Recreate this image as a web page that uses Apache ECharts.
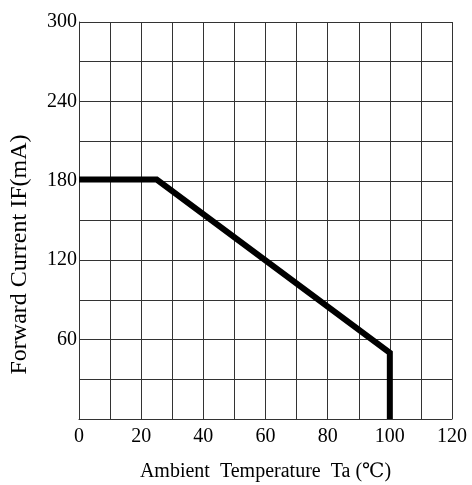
<!DOCTYPE html>
<html>
<head>
<meta charset="utf-8">
<script src="https://cdn.jsdelivr.net/npm/echarts@6/dist/echarts.min.js"></script>
<style>
  html, body { margin: 0; padding: 0; background: #fff; }
  #chart { width: 472px; height: 485px; }
</style>
</head>
<body>
<div id="chart"></div>
<script>
// derating curve
const ambientTemp = [0, 25, 100, 100];
const forwardCurrent = [181, 181, 50, 0];
const xLabelEvery = 20;
const yLabelEvery = 60;

const chart = echarts.init(document.getElementById('chart'));
const font = '"Liberation Serif", "DejaVu Serif", serif';
const gridColor = '#333';

const option = {
    animation: false,
    grid: { left: 79, right: 20, top: 22, bottom: 66, outerBoundsMode: 'none' },
    xAxis: {
        type: 'value',
        min: 0,
        max: 120,
        interval: 10,
        name: 'Ambient  Temperature  Ta (\u2103)',
        nameLocation: 'middle',
        nameGap: 43,
        nameTextStyle: { fontFamily: font, fontSize: 20, color: '#000' },
        axisLine: { lineStyle: { color: gridColor, width: 1 } },
        axisTick: { show: false },
        axisLabel: {
            fontFamily: font, fontSize: 20, color: '#000', margin: 8,
            formatter: v => (v % xLabelEvery === 0 ? String(v) : '')
        },
        splitLine: { show: true, lineStyle: { color: gridColor, width: 1 } }
    },
    yAxis: {
        type: 'value',
        min: 0,
        max: 300,
        interval: 30,
        name: 'Forward Current IF(mA)',
        nameLocation: 'middle',
        nameGap: 47,
        nameTextStyle: { fontFamily: font, fontSize: 24, color: '#000', padding: [0, 68, 0, 0] },
        axisLine: { lineStyle: { color: gridColor, width: 1 } },
        axisTick: { show: false },
        axisLabel: {
            fontFamily: font, fontSize: 20, color: '#000', margin: 2,
            formatter: v => (v > 0 && v % yLabelEvery === 0 ? String(v) : '')
        },
        splitLine: { show: true, lineStyle: { color: gridColor, width: 1 } }
    },
    series: [
        {
            type: 'line',
            data: ambientTemp.map((t, i) => [t, forwardCurrent[i]]),
            symbol: 'none',
            lineStyle: { color: '#000', width: 6, join: 'miter' }
        }
    ]
};
chart.setOption(option);
</script>
</body>
</html>
